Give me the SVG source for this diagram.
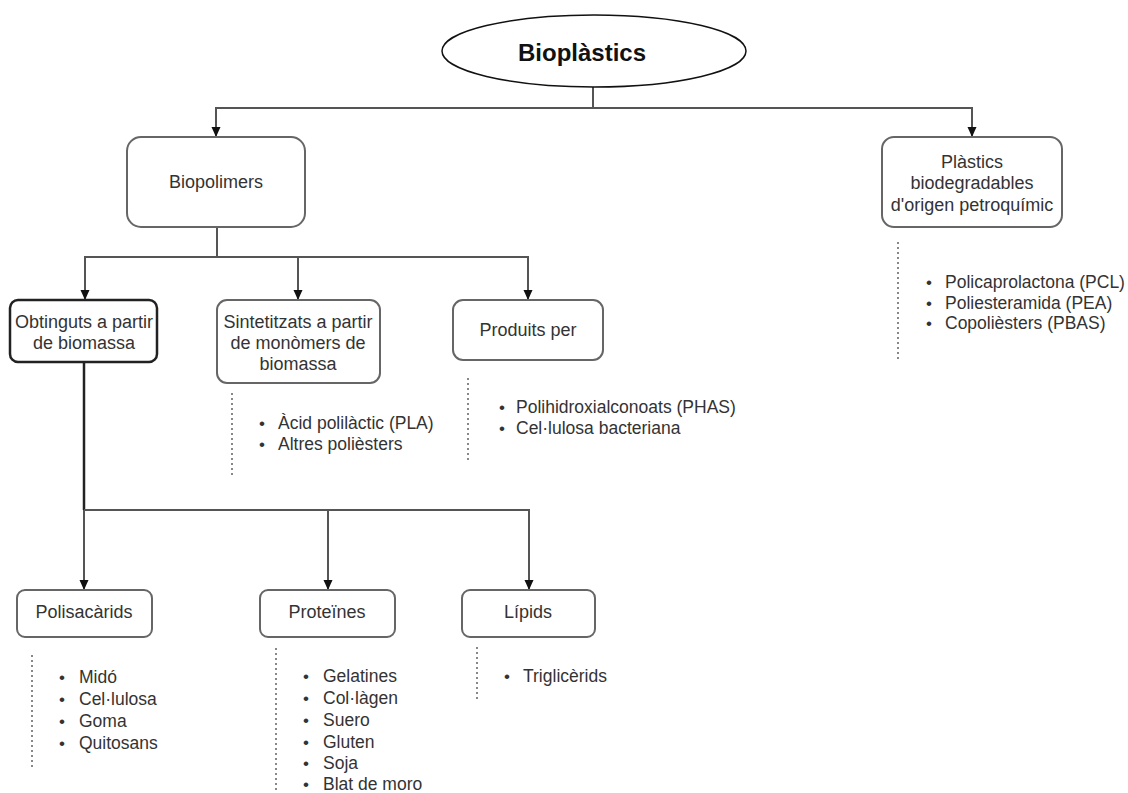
<svg xmlns="http://www.w3.org/2000/svg" width="1128" height="793" viewBox="0 0 1128 793">
<defs>
<marker id="arr" markerUnits="userSpaceOnUse" markerWidth="10" markerHeight="11" refX="10" refY="5" orient="auto">
<path d="M0,0.5 L10,5 L0,9.5 z" fill="#111"/>
</marker>
<style>
.box{fill:#fff;stroke:#666;stroke-width:2}
.boxd{fill:#fff;stroke:#222;stroke-width:2.5}
.lbl{font-family:"Liberation Sans",Arial,sans-serif;font-size:18px;fill:#333;text-anchor:middle}
.li{font-family:"Liberation Sans",Arial,sans-serif;font-size:17.5px;fill:#333}
.bul{font-family:"Liberation Sans",Arial,sans-serif;font-size:17px;fill:#333}
.con{fill:none;stroke:#555;stroke-width:2}
.dot{fill:none;stroke:#888;stroke-width:2;stroke-dasharray:2 3}
</style>
</defs>
<rect width="1128" height="793" fill="#fff"/>

<g id="connectors">
<path class="con" d="M593,87 V108 H216 V137" marker-end="url(#arr)"/>
<path class="con" d="M593,108 H972 V137" marker-end="url(#arr)"/>
<path class="con" d="M217,227 V257 H85 V300" marker-end="url(#arr)"/>
<path class="con" d="M217,257 H298 V300" marker-end="url(#arr)"/>
<path class="con" d="M298,257 H528 V300" marker-end="url(#arr)"/>
<path fill="none" stroke="#222" stroke-width="2.5" d="M84,362 V510"/>
<path class="con" d="M84,510 V590" marker-end="url(#arr)"/>
<path class="con" d="M84,510 H328 V590" marker-end="url(#arr)"/>
<path class="con" d="M328,510 H529 V590" marker-end="url(#arr)"/>
<path class="dot" d="M898,242 V362"/>
<path class="dot" d="M232,393 V477"/>
<path class="dot" d="M468,378 V460"/>
<path class="dot" d="M32,655 V767"/>
<path class="dot" d="M276,648 V793"/>
<path class="dot" d="M477,647 V702"/>
</g>

<g id="bioplastics">
<ellipse cx="594" cy="51" rx="152" ry="36" fill="#fff" stroke="#111" stroke-width="1.5"/>
<text x="582" y="61" font-family="'Liberation Sans',Arial,sans-serif" font-size="24" font-weight="bold" fill="#111" text-anchor="middle">Bioplàstics</text>
</g>

<g id="biopolimers">
<rect class="box" x="127" y="137" width="178" height="90" rx="14"/>
<text class="lbl" x="216" y="188">Biopolimers</text>
</g>

<g id="plastics-petro">
<rect class="box" x="882" y="137" width="180" height="90" rx="12"/>
<text class="lbl" x="972" y="168">Plàstics</text>
<text class="lbl" x="972" y="189">biodegradables</text>
<text class="lbl" x="972" y="211">d'origen petroquímic</text>
<text class="bul" x="926" y="288">•</text><text class="li" x="945" y="288">Policaprolactona (PCL)</text>
<text class="bul" x="926" y="309">•</text><text class="li" x="945" y="309">Poliesteramida (PEA)</text>
<text class="bul" x="926" y="329">•</text><text class="li" x="945" y="329">Copolièsters (PBAS)</text>
</g>

<g id="obtinguts">
<rect class="boxd" x="10" y="300" width="147" height="62" rx="8"/>
<text class="lbl" x="84" y="328">Obtinguts a partir</text>
<text class="lbl" x="84" y="349">de biomassa</text>
</g>

<g id="sintetitzats">
<rect class="box" x="217" y="300" width="163" height="83" rx="10"/>
<text class="lbl" x="298" y="328">Sintetitzats a partir</text>
<text class="lbl" x="298" y="349">de monòmers de</text>
<text class="lbl" x="298" y="370">biomassa</text>
<text class="bul" x="259" y="429">•</text><text class="li" x="278" y="429">Àcid polilàctic (PLA)</text>
<text class="bul" x="259" y="450">•</text><text class="li" x="278" y="450">Altres polièsters</text>
</g>

<g id="produits">
<rect class="box" x="453" y="300" width="150" height="60" rx="10"/>
<text class="lbl" x="528" y="336">Produits per</text>
<text class="bul" x="499" y="413">•</text><text class="li" x="516" y="413">Polihidroxialconoats (PHAS)</text>
<text class="bul" x="499" y="434">•</text><text class="li" x="516" y="434">Cel·lulosa bacteriana</text>
</g>

<g id="polisacarids">
<rect class="box" x="17" y="590" width="135" height="47" rx="8"/>
<text class="lbl" x="84" y="618">Polisacàrids</text>
<text class="bul" x="59" y="683">•</text><text class="li" x="79" y="683">Midó</text>
<text class="bul" x="59" y="705">•</text><text class="li" x="79" y="705">Cel·lulosa</text>
<text class="bul" x="59" y="727">•</text><text class="li" x="79" y="727">Goma</text>
<text class="bul" x="59" y="749">•</text><text class="li" x="79" y="749">Quitosans</text>
</g>

<g id="proteines">
<rect class="box" x="260" y="590" width="135" height="47" rx="8"/>
<text class="lbl" x="327" y="618">Proteïnes</text>
<text class="bul" x="303" y="682">•</text><text class="li" x="323" y="682">Gelatines</text>
<text class="bul" x="303" y="704">•</text><text class="li" x="323" y="704">Col·làgen</text>
<text class="bul" x="303" y="726">•</text><text class="li" x="323" y="726">Suero</text>
<text class="bul" x="303" y="748">•</text><text class="li" x="323" y="748">Gluten</text>
<text class="bul" x="303" y="769">•</text><text class="li" x="323" y="769">Soja</text>
<text class="bul" x="303" y="790">•</text><text class="li" x="323" y="790">Blat de moro</text>
</g>

<g id="lipids">
<rect class="box" x="462" y="590" width="133" height="47" rx="8"/>
<text class="lbl" x="528" y="618">Lípids</text>
<text class="bul" x="504" y="682">•</text><text class="li" x="523" y="682">Triglicèrids</text>
</g>
</svg>
